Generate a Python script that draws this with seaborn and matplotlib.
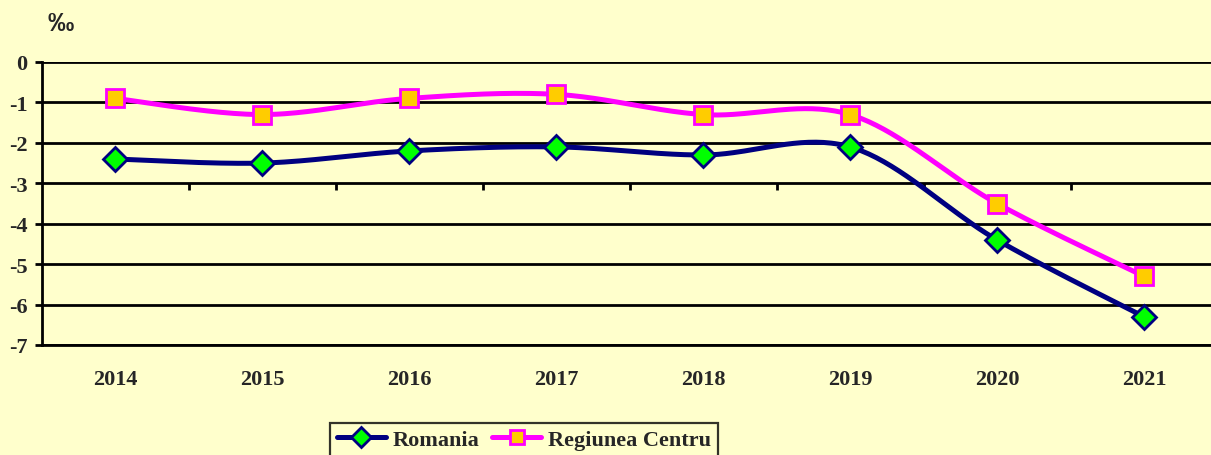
import numpy as np
import pandas as pd
import matplotlib
matplotlib.use("Agg")
import matplotlib.pyplot as plt
from matplotlib.lines import Line2D
from matplotlib.ticker import FixedLocator
import seaborn as sns

years = ["2014", "2015", "2016", "2017", "2018", "2019", "2020", "2021"]
romania = [-2.4, -2.5, -2.2, -2.1, -2.3, -2.1, -4.4, -6.3]
centru = [-0.9, -1.3, -0.9, -0.8, -1.3, -1.3, -3.5, -5.3]
series_names = ["Romania", "Regiunea Centru"]
y_ticks = [0, -1, -2, -3, -4, -5, -6, -7]

bg = "#FFFFCC"

sns.set_theme(style="white")
plt.rcParams["font.family"] = ["Liberation Serif", "DejaVu Serif"]
plt.rcParams["axes.unicode_minus"] = False


def smooth(vals, n=40):
    # Excel-style smoothed line (Catmull-Rom as cubic Bezier)
    p = np.column_stack([np.arange(len(vals), dtype=float), np.asarray(vals, float)])
    ext = np.vstack([p[0], p, p[-1]])
    out = []
    t = np.linspace(0, 1, n)[:, None]
    for i in range(len(p) - 1):
        p0, p1, p2, p3 = ext[i], ext[i + 1], ext[i + 2], ext[i + 3]
        c1 = p1 + (p2 - p0) / 6
        c2 = p2 - (p3 - p1) / 6
        seg = ((1 - t) ** 3) * p1 + 3 * ((1 - t) ** 2) * t * c1 + 3 * (1 - t) * t ** 2 * c2 + t ** 3 * p2
        out.append(seg if i == 0 else seg[1:])
    out = np.vstack(out)
    return out[:, 0], out[:, 1]


fig = plt.figure(figsize=(12.11, 4.56), dpi=100, facecolor=bg)
ax = fig.add_axes([41.5 / 1211, 110 / 456, 1 - 41.5 / 1211, 283 / 456])
ax.set_facecolor(bg)

styles = {
    "Romania": dict(vals=romania, line="#000080", face="#00FF00", marker="D", ms=12),
    "Regiunea Centru": dict(vals=centru, line="#FF00FF", face="#FFCC00", marker="s", ms=12.5),
}

for name in series_names:
    st = styles[name]
    sx, sy = smooth(st["vals"])
    sns.lineplot(x=sx, y=sy, sort=False, estimator=None, color=st["line"],
                 linewidth=3.6, ax=ax, zorder=3)
    ax.plot(range(len(years)), st["vals"], linestyle="none", marker=st["marker"],
            markersize=st["ms"], markerfacecolor=st["face"], markeredgecolor=st["line"],
            markeredgewidth=2, zorder=4)

ax.set_xlim(-0.5, (1211 - 115) / 147)
ax.set_ylim(-7, 0)
ax.set_yticks(y_ticks)
ax.set_yticklabels([str(v) for v in y_ticks], fontsize=16, fontweight="bold")
ax.set_xticks(range(len(years)))
ax.set_xticklabels(years, fontsize=16, fontweight="bold")
ax.tick_params(axis="x", length=0, pad=17)
ax.tick_params(axis="y", length=5, width=2, color="black", pad=5, left=True)
ax.grid(axis="y", color="black", linewidth=2)
ax.grid(axis="x", visible=False)
ax.set_axisbelow(True)
for s in ["top", "right"]:
    ax.spines[s].set_visible(False)
ax.spines["left"].set_color("black")
ax.spines["left"].set_linewidth(2)
ax.spines["bottom"].set_color("black")
ax.spines["bottom"].set_linewidth(2)

# category axis crosses at -3: tick marks hang under that gridline
sec = ax.secondary_xaxis(4 / 7)
sec.xaxis.set_major_locator(FixedLocator(np.arange(0.5, 8, 1.0)))
sec.tick_params(axis="x", direction="out", length=5, width=2, color="black",
                labelbottom=False, labeltop=False, bottom=True, top=False)
sec.xaxis.set_ticks_position("bottom")
sec.spines["bottom"].set_visible(False)
sec.spines["top"].set_visible(False)
sec.set_xticklabels([])

fig.text(61 / 1211, 1 - 24 / 456, "‰", fontsize=19, fontweight="bold",
         family=["Liberation Sans", "DejaVu Sans"], ha="center", va="center")

handles = [
    Line2D([], [], color=styles[n]["line"], linewidth=3.6, marker=styles[n]["marker"],
           markersize=10, markerfacecolor=styles[n]["face"], markeredgecolor=styles[n]["line"],
           markeredgewidth=2)
    for n in series_names
]
leg = fig.legend(handles, series_names, loc="upper left",
                 bbox_to_anchor=(330 / 1211, 1 - 424 / 456), ncol=2,
                 prop={"weight": "bold", "size": 16}, frameon=True, fancybox=False,
                 handlelength=2.2, handletextpad=0.3, columnspacing=0.6,
                 borderpad=0.3, borderaxespad=0)
leg.get_frame().set_edgecolor("black")
leg.get_frame().set_linewidth(1.6)
leg.get_frame().set_facecolor(bg)

fig.savefig("out.png", dpi=100, facecolor=bg)
